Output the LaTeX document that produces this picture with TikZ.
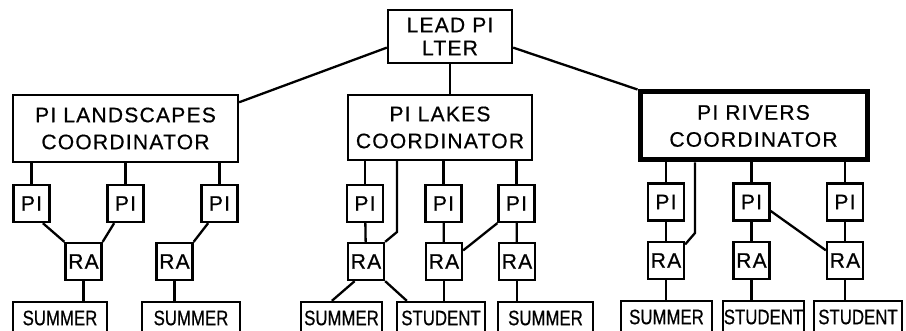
\documentclass[tikz,border=0pt]{standalone}
\usepackage{fontspec}
\setmainfont{Liberation Sans}
\newfontfamily\handfont[LetterSpace=6,FakeBold=0.6]{Liberation Sans}
\newfontfamily\tagfont[FakeStretch=0.8,FakeBold=0.6]{Liberation Sans}
\usetikzlibrary{calc}

\begin{document}
\begin{tikzpicture}[x=1pt,y=-1pt,line width=2.3pt,
    box/.style={draw,rectangle,inner sep=0pt,align=center},
    coordbox/.style={box,font=\handfont\fontsize{21}{27}\selectfont},
    smallbox/.style={box,minimum width=36,minimum height=37,font=\handfont\fontsize{21}{21}\selectfont},
    helpbox/.style={box,minimum height=32,font=\tagfont\fontsize{21}{21}\selectfont}]
      \path[use as bounding box,clip] (0,0) rectangle (906,331);

      % top of the tree
      \node[coordbox,minimum width=124,minimum height=53,font=\handfont\fontsize{21}{23}\selectfont] (lead) at (450,36.5) {LEAD PI\\LTER};
      \node[coordbox,minimum width=225,minimum height=67] (land) at (125.5,128.5) {PI LANDSCAPES\\COORDINATOR};
      \node[coordbox,minimum width=184,minimum height=65] (lakes) at (440,127.5) {PI LAKES\\COORDINATOR};
      \node[coordbox,minimum width=227,minimum height=68,line width=5pt] (rivers) at (753.5,126) {PI RIVERS\\COORDINATOR};

      \draw (lead.190) -- (land.13);
      \draw (lead.south) -- (lead.south |- lakes.north);
      \draw (lead.350) -- (rivers.north west);

      % landscapes
      \node[smallbox] (lpa) at (31.5,203.5) {PI};
      \node[smallbox] (lpb) at (125.5,203.5) {PI};
      \node[smallbox] (lpc) at (219.5,203.5) {PI};
      \node[smallbox] (lra1) at (83.5,261.5) {RA};
      \node[smallbox] (lra2) at (174.5,261.5) {RA};
      \node[helpbox,minimum width=94] (lsa) at (60,318) {SUMMER};
      \node[helpbox,minimum width=98] (lsb) at (191,318) {SUMMER};

      \draw (lpa.north) -- (lpa.north |- land.south);
      \draw (lpb.north) -- (lpb.north |- land.south);
      \draw (lpc.north) -- (lpc.north |- land.south);
      \draw (lpa.-60) -- (lra1.north west);
      \draw (lpb.-120) -- (lra1.north east);
      \draw (lpc.-120) -- (lra2.north east);
      \draw (lra1.south) -- (lra1.south |- lsa.north);
      \draw (lra2.south) -- (lra2.south |- lsb.north);

      % lakes
      \node[smallbox] (kpa) at (365,203.5) {PI};
      \node[smallbox] (kpb) at (443.5,203.5) {PI};
      \node[smallbox] (kpc) at (516.5,203.5) {PI};
      \node[smallbox] (kra1) at (366,261.5) {RA};
      \node[smallbox] (kra2) at (444,261.5) {RA};
      \node[smallbox] (kra3) at (517,261.5) {RA};
      \node[helpbox,minimum width=81] (ksa) at (341.5,318) {SUMMER};
      \node[helpbox,minimum width=88] (ksb) at (441,318) {STUDENT};
      \node[helpbox,minimum width=95] (ksc) at (545.5,318) {SUMMER};
      \coordinate (kbend) at (397,232);

      \draw (kpa.north) -- (kpa.north |- lakes.south);
      \draw (kpb.north) -- (kpb.north |- lakes.south);
      \draw (kpc.north) -- (kpc.north |- lakes.south);
      \draw (kbend |- lakes.south) -- (kbend) -- (kra1.north east);
      \draw (kpa) -- (kra1);
      \draw (kpb) -- (kra2);
      \draw (kpc) -- (kra3);
      \draw (kpc.south west) -- (kra2.30);
      \draw (kra1.-120) -- ($(ksa.north west)+(32,0)$);
      \draw (kra1.south east) -- ($(ksb.north west)+(11,0)$);
      \draw (kra2.south) -- (kra2.south |- ksb.north);
      \draw (kra3.south) -- (kra3.south |- ksc.north);

      % rivers
      \node[smallbox] (rpa) at (666,202) {PI};
      \node[smallbox] (rpb) at (751.5,202) {PI};
      \node[smallbox] (rpc) at (845,202) {PI};
      \node[smallbox] (rra1) at (666,260.5) {RA};
      \node[smallbox] (rra2) at (751.5,260.5) {RA};
      \node[smallbox] (rra3) at (845,260.5) {RA};
      \node[helpbox,minimum width=91] (rsa) at (666.5,317) {SUMMER};
      \node[helpbox,minimum width=81] (rsb) at (763.5,317) {STUDENT};
      \node[helpbox,minimum width=88] (rsc) at (858,317) {STUDENT};
      \coordinate (rbend) at (695,233);

      \draw (rpa.north) -- (rpa.north |- rivers.south);
      \draw (rpb.north) -- (rpb.north |- rivers.south);
      \draw (rpc.north) -- (rpc.north |- rivers.south);
      \draw (rbend |- rivers.south) -- (rbend) -- (rra1.40);
      \draw (rpa) -- (rra1);
      \draw (rpb) -- (rra2);
      \draw (rpc) -- (rra3);
      \draw (rpb.-25) -- (rra3.152);
      \draw (rra1.south) -- (rra1.south |- rsa.north);
      \draw (rra2.south) -- (rra2.south |- rsb.north);
      \draw (rra3.south) -- (rra3.south |- rsc.north);
    \end{tikzpicture}
\end{document}
